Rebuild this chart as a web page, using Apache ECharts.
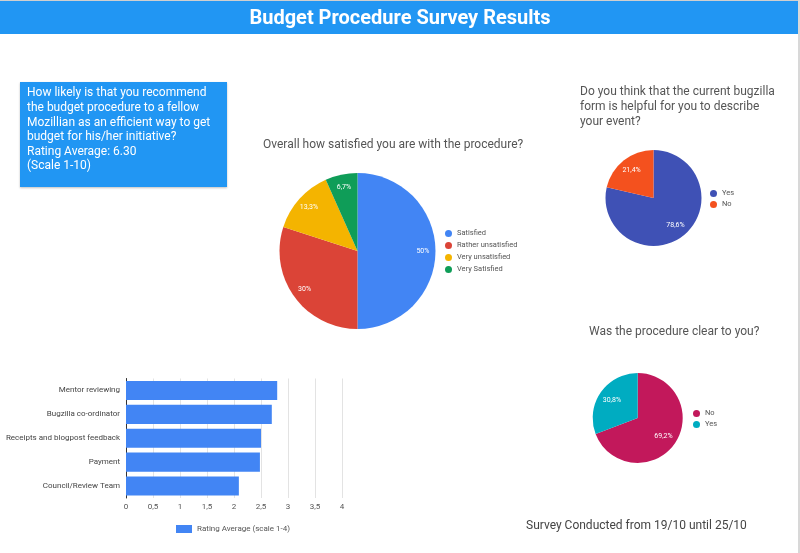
<!DOCTYPE html>
<html>
<head>
<meta charset="utf-8">
<script src="https://cdn.jsdelivr.net/npm/echarts@6/dist/echarts.min.js"></script>
<style>
html,body{margin:0;padding:0;background:#fff;}
#chart{width:800px;height:553px;}
</style>
</head>
<body>
<div id="chart"></div>
<script>
// ---- Data ----
const satisfactionNames = ['Satisfied', 'Rather unsatisfied', 'Very unsatisfied', 'Very Satisfied'];
const satisfactionCounts = [15, 9, 4, 2];
const satisfactionColors = ['#4285F4', '#DB4437', '#F4B400', '#0F9D58'];

const bugzillaNames = ['Yes', 'No'];
const bugzillaCounts = [11, 3];
const bugzillaColors = ['#3F51B5', '#F4511E'];

const clearNames = ['No', 'Yes'];
const clearCounts = [9, 4];
const clearColors = ['#C2185B', '#00ACC1'];

const ratingCategories = ['Mentor reviewing', 'Bugzilla co-ordinator', 'Receipts and blogpost feedback', 'Payment', 'Council/Review Team'];
const ratingValues = [2.80, 2.70, 2.50, 2.48, 2.09];
const ratingSeriesName = 'Rating Average (scale 1-4)';

const recommendText = ['How likely is that you recommend', 'the budget procedure to a fellow', 'Mozillian as an efficient way to get', 'budget for his/her initiative?', 'Rating Average: 6.30', '(Scale 1-10)'];

// ---- Helpers ----
const FONT = 'Roboto, "Noto Sans", sans-serif';
function pieData(names, counts, colors) {
  return names.map((n, i) => ({ name: n, value: counts[i], itemStyle: { color: colors[i] } }));
}
function ghostData(names, counts) {
  return names.map((n, i) => ({ name: n, value: counts[i] }));
}
function legendData(names, colors) {
  return names.map((n, i) => ({ name: n, itemStyle: { color: colors[i] } }));
}
function pctFmt(p) {
  return String(+p.percent.toFixed(1)).replace('.', ',') + '%';
}
function pieSeries(names, counts, colors, center, r, k) {
  return [
    {
      type: 'pie', center: center, radius: [0, r], startAngle: 90, clockwise: true,
      label: { show: false }, labelLine: { show: false }, silent: true,
      itemStyle: { borderWidth: 0 },
      data: pieData(names, counts, colors)
    },
    {
      type: 'pie', center: center, radius: [r * (2 * k - 1), r], startAngle: 90, clockwise: true,
      silent: true, z: 3,
      itemStyle: { color: 'transparent' },
      label: { show: true, position: 'inside', color: '#fff', fontSize: 7, fontFamily: FONT, formatter: pctFmt },
      labelLine: { show: false },
      data: ghostData(names, counts)
    }
  ];
}
function pieLegend(names, colors, left, top, gap) {
  return {
    orient: 'vertical', left: left, top: top, icon: 'circle',
    itemWidth: 7, itemHeight: 7, itemGap: gap, padding: 0,
    selectedMode: false,
    textStyle: { fontSize: 7.5, color: '#555', fontFamily: FONT, padding: [0, 0, 0, 0] },
    data: legendData(names, colors)
  };
}

const chart = echarts.init(document.getElementById('chart'), null, { renderer: 'canvas' });

const option = {
  backgroundColor: '#fff',
  animation: false,
  graphic: [
    { type: 'rect', shape: { x: 0, y: 0, width: 800, height: 1 }, style: { fill: '#cfcfcf' } },
    { type: 'rect', shape: { x: 0, y: 1, width: 798, height: 33 }, style: { fill: '#2196F3' } },
    { type: 'rect', shape: { x: 798, y: 0, width: 2, height: 553 }, style: { fill: '#d8d8d8' } },
    { type: 'rect', shape: { x: 20, y: 82, width: 207, height: 105 }, style: { fill: '#2196F3', shadowBlur: 2, shadowColor: 'rgba(0,0,0,0.25)', shadowOffsetY: 1 } },
    { type: 'text', x: 27, y: 86, style: { text: recommendText.join('\n'), fill: '#fff', font: '12px ' + FONT, lineHeight: 14.6 } }
  ],
  title: [
    { text: 'Budget Procedure Survey Results', left: 'center', top: 9, padding: 0,
      textStyle: { color: '#fff', fontSize: 20, fontWeight: 'bold', fontFamily: FONT } },
    { text: 'Overall how satisfied you are with the procedure?', left: 263, top: 139, padding: 0,
      textStyle: { color: '#555', fontSize: 12, fontWeight: 'normal', fontFamily: FONT } },
    { text: 'Do you think that the current bugzilla\nform is helpful for you to describe\nyour event?', left: 580, top: 85, padding: 0,
      textStyle: { color: '#555', fontSize: 12, fontWeight: 'normal', fontFamily: FONT, lineHeight: 14.6 } },
    { text: 'Was the procedure clear to you?', left: 589, top: 326, padding: 0,
      textStyle: { color: '#555', fontSize: 12, fontWeight: 'normal', fontFamily: FONT } },
    { text: 'Survey Conducted from 19/10 until 25/10', left: 526, top: 520, padding: 0,
      textStyle: { color: '#444', fontSize: 12, fontWeight: 'normal', fontFamily: FONT } }
  ],
  legend: [
    pieLegend(satisfactionNames, satisfactionColors, 445, 229.5, 4),
    pieLegend(bugzillaNames, bugzillaColors, 710, 189.5, 3),
    pieLegend(clearNames, clearColors, 693, 409.5, 3),
    {
      left: 176, top: 525, padding: 0, selectedMode: false,
      icon: 'rect', itemWidth: 16, itemHeight: 8,
      textStyle: { fontSize: 8, color: '#555', fontFamily: FONT },
      data: [{ name: ratingSeriesName, itemStyle: { color: '#4285F4' } }]
    }
  ],
  grid: { left: 126, top: 378.5, width: 216, height: 119.5, containLabel: false },
  xAxis: {
    type: 'value', min: 0, max: 4, interval: 0.5,
    axisLine: { show: false }, axisTick: { show: false },
    splitLine: { lineStyle: { color: '#e3e3e3', width: 1 } },
    axisLabel: { fontSize: 8, color: '#555', fontFamily: FONT, margin: 5,
      formatter: v => String(v).replace('.', ',') }
  },
  yAxis: {
    type: 'category', data: ratingCategories, inverse: true,
    axisLine: { show: true, lineStyle: { color: '#333', width: 1 } },
    axisTick: { show: false },
    axisLabel: { fontSize: 8, color: '#444', fontFamily: FONT, margin: 6 }
  },
  series: [
    {
      type: 'bar', name: ratingSeriesName, data: ratingValues,
      barCategoryGap: '20%', itemStyle: { color: '#4285F4' }, silent: true
    }
  ].concat(
    pieSeries(satisfactionNames, satisfactionCounts, satisfactionColors, [357.5, 251], 78, 0.8),
    pieSeries(bugzillaNames, bugzillaCounts, bugzillaColors, [653.5, 198], 48, 0.67),
    pieSeries(clearNames, clearCounts, clearColors, [637.7, 418], 45, 0.63)
  )
};
chart.setOption(option);
</script>
</body>
</html>
